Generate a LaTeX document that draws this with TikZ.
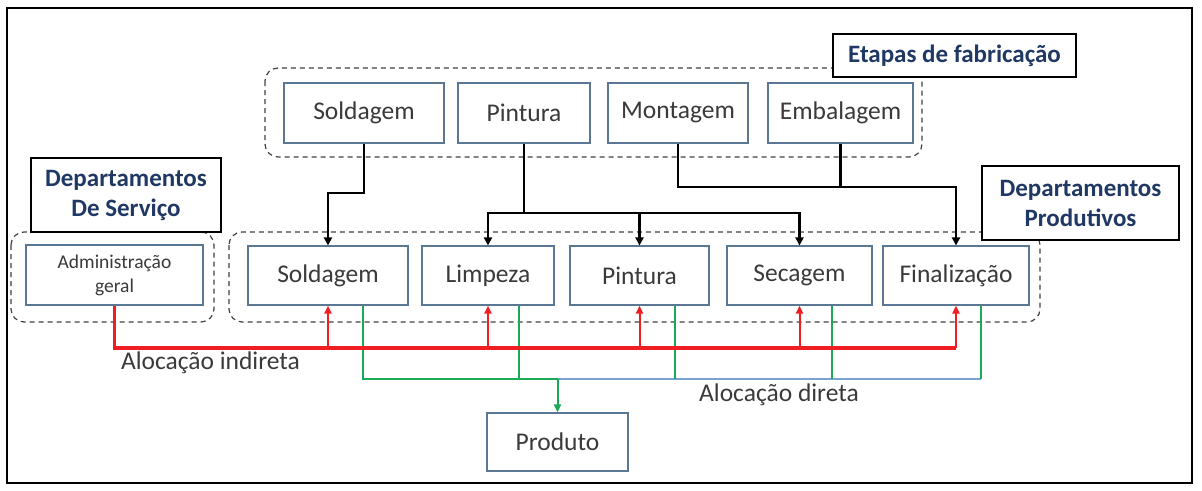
\documentclass[tikz,border=0pt]{standalone}
\usepackage{fontspec}
\setmainfont{Carlito}
\usetikzlibrary{arrows.meta}
\definecolor{boxline}{HTML}{5A7894}
\definecolor{txt}{HTML}{3A3A3A}
\definecolor{navy}{HTML}{1F3864}
\definecolor{grpline}{HTML}{404040}
\definecolor{redc}{HTML}{F01E23}
\definecolor{grnc}{HTML}{1AAA55}
\definecolor{bluc}{HTML}{7AA3D4}
\tikzset{
  box/.style={draw=boxline, line width=1.1pt, fill=white, inner sep=0pt, text=txt,
    font=\fontsize{25.5}{30}\selectfont, align=center},
  smallbox/.style={box, font=\fontsize{19.5}{24}\selectfont},
  labelbox/.style={draw=black, line width=1.5pt, fill=white, inner sep=0pt, text=navy,
    font=\fontsize{25}{30}\selectfont\bfseries, align=center},
  grp/.style={draw=grpline, line width=1.2pt, dash pattern=on 5pt off 4pt, rounded corners=13pt},
  blk/.style={draw=black, line width=2.6pt},
  blkarr/.style={blk, -{Triangle[length=8pt,width=8pt]}},
  redthick/.style={draw=redc, line width=3.4pt},
  redarr/.style={draw=redc, line width=2pt, -{Triangle[length=8pt,width=7pt]}},
  grn/.style={draw=grnc, line width=2pt},
  grnarr/.style={grn, -{Triangle[length=8pt,width=7pt]}},
  blu/.style={draw=bluc, line width=2pt},
  plain/.style={text=txt, font=\fontsize{25.5}{30}\selectfont, inner sep=0pt}
}
\begin{document}
\begin{tikzpicture}[x=1pt,y=-1pt]
\useasboundingbox (0,0) rectangle (1202,490);
\draw[line width=2pt] (7,8) rectangle (1192,483);

% groups
\draw[grp] (265,68) rectangle (922,157);
\draw[grp] (11,232) rectangle (214,322);
\draw[grp] (229,232) rectangle (1040,322);

% labels
\node[labelbox, minimum width=243pt, minimum height=43pt] (letapas) at (954.5,55.5) {Etapas de fabricação};
\node[labelbox, minimum width=190pt, minimum height=74pt] (lserv) at (126,195) {Departamentos\\De Serviço};
\node[labelbox, minimum width=197pt, minimum height=74pt] (lprod) at (1080.5,203) {Departamentos\\Produtivos};

% top boxes
\node[box, minimum width=160pt, minimum height=60pt] (ts) at (364,113) {Soldagem};
\node[box, minimum width=132pt, minimum height=60pt] (tp) at (524,113) {Pintura};
\node[box, minimum width=140pt, minimum height=60pt] (tm) at (678,113) {Montagem};
\node[box, minimum width=145pt, minimum height=60pt] (te) at (840.5,113) {Embalagem};

% bottom boxes
\node[smallbox, minimum width=177pt, minimum height=60pt] (adm) at (114.5,275) {Administração\\geral};
\node[box, minimum width=160pt, minimum height=59pt] (bs) at (328,275.5) {Soldagem};
\node[box, minimum width=132pt, minimum height=59pt] (bl) at (488,275.5) {Limpeza};
\node[box, minimum width=139pt, minimum height=59pt] (bp) at (639.5,275.5) {Pintura};
\node[box, minimum width=145pt, minimum height=59pt] (bsc) at (799.5,275.5) {Secagem};
\node[box, minimum width=146pt, minimum height=59pt] (bf) at (956,275.5) {Finalização};
\node[box, minimum width=141pt, minimum height=58pt] (prod) at (557.5,442) {Produto};

% levels
\coordinate (ys) at (0,193);
\coordinate (yp) at (0,213);
\coordinate (ym) at (0,187);
\coordinate (yr) at (0,348);
\coordinate (yg) at (0,379);

% black connectors
\draw[blkarr] (ts.south) -- (ts.south |- ys) -| (bs.north);
\draw[blkarr] (tp.south) -- (tp.south |- yp) -| (bl.north);
\draw[blkarr] (tp.south |- yp) -| (bp.north);
\draw[blkarr] (tp.south |- yp) -| (bsc.north);
\draw[blkarr] (tm.south) -- (tm.south |- ym) -| (bf.north);
\draw[blk] (te.south) -- (te.south |- ym);

% direct allocation
\coordinate (g1) at ([xshift=35pt]bs.south);
\coordinate (g2) at ([xshift=31pt]bl.south);
\coordinate (g3) at ([xshift=35pt]bp.south);
\coordinate (g4) at ([xshift=32pt]bsc.south);
\coordinate (g5) at ([xshift=25pt]bf.south);
\draw[blu] (prod.north |- yg) -- (g5 |- yg);
\draw[grn] (g1) -- (g1 |- yg) -- (prod.north |- yg);
\draw[grn] (g2) -- (g2 |- yg);
\draw[grn] (g3) -- (g3 |- yg);
\draw[grn] (g4) -- (g4 |- yg);
\draw[grn] (g5) -- (g5 |- yg);
\draw[grnarr] (prod.north |- yg) -- (prod.north);

% indirect allocation
\draw[redthick] (adm.south) -- (adm.south |- yr) -- (bf.south |- yr);
\draw[redarr] (bs.south |- yr) -- (bs.south);
\draw[redarr] (bl.south |- yr) -- (bl.south);
\draw[redarr] (bp.south |- yr) -- (bp.south);
\draw[redarr] (bsc.south |- yr) -- (bsc.south);
\draw[redarr] (bf.south |- yr) -- (bf.south);

\node[plain] (tind) at (210.5,363) {Alocação indireta};
\node[plain] (tdir) at (779,395) {Alocação direta};
\end{tikzpicture}
\end{document}
